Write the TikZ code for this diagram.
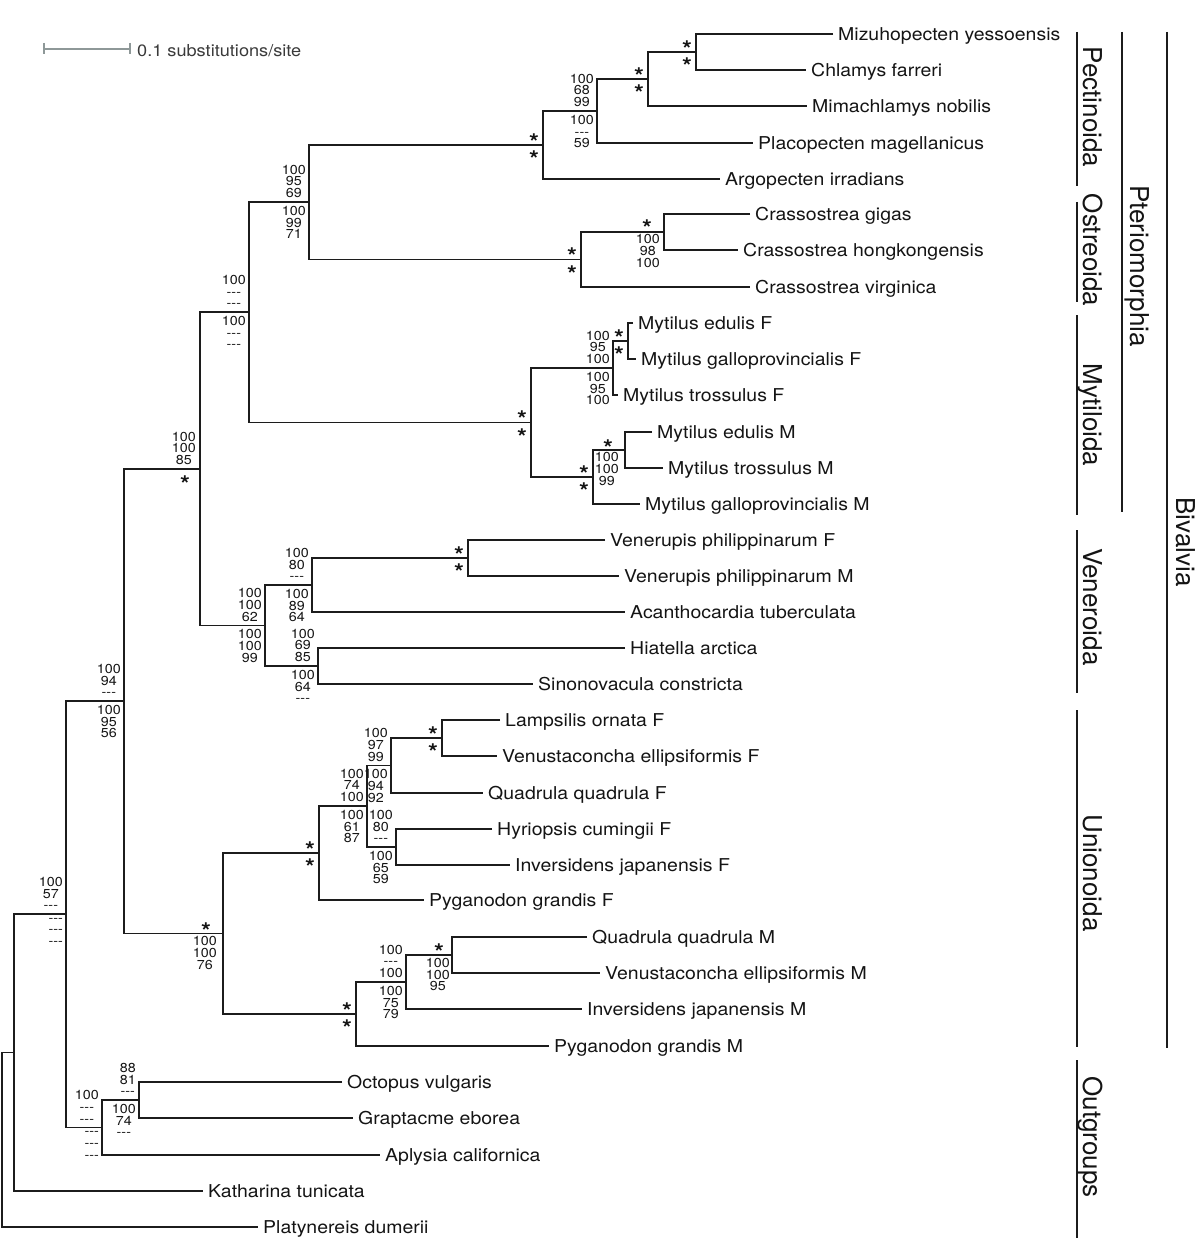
\documentclass[tikz,border=0pt]{standalone}
\usepackage{fontspec}
\setmainfont{TeX Gyre Heros}[FakeStretch=1.1]
\newfontfamily\cladefont{TeX Gyre Heros}
\definecolor{linec}{HTML}{1C1C1C}
\definecolor{txtc}{HTML}{141414}
\definecolor{scalec}{HTML}{8E9898}
\definecolor{scaletxt}{HTML}{3A3A3A}
\newcommand{\tdash}{\mbox{-}\mbox{-}\mbox{-}}
\newcommand{\stglyph}{\raisebox{-0.42em}[0.3em][0pt]{*}}
\newcommand{\tip}[4]{\coordinate (#1) at (#2,#3); \node[taxon] (#1l) at ([shift={(5,6.3)}]#1) {#4};}
\newcommand{\inode}[3]{\coordinate (#1) at (#2,#3);}
\newcommand{\sstars}[1]{\node[stx] (#1sa) at ([shift={(-9,-8)}]#1) {\stglyph}; \node[stx] (#1sb) at ([shift={(-9,9.5)}]#1) {\stglyph};}
\newcommand{\lab}[3]{\node[supu] (#1la) at ([shift={(-3,-4)}]#1) {#2}; \node[supd] (#1lb) at ([shift={(-3,4)}]#1) {#3};}
\begin{document}
\begin{tikzpicture}[x=1pt,y=-1pt,
  branch/.style={draw=linec, line width=1.8pt, line join=miter},
  taxon/.style={anchor=base west, inner sep=0pt, font=\fontsize{17.7}{20}\selectfont, text=txtc},
  supu/.style={anchor=south east, inner sep=0pt, align=center, font=\fontsize{13}{11.7}\selectfont, text=txtc},
  supd/.style={supu, anchor=north east},
  stx/.style={anchor=center, inner sep=0pt, font=\bfseries\fontsize{23}{23}\selectfont, text=txtc},
  cladebar/.style={draw=linec, line width=2pt},
  cladetxt/.style={anchor=base, rotate=-90, inner sep=0pt, font=\cladefont\fontsize{26}{26}\selectfont, text=txtc},
  scalebar/.style={draw=scalec, line width=2pt},
]
\useasboundingbox (0,0) rectangle (1200,1238);
% tips
\tip{t1}{833}{34}{Mizuhopecten yessoensis}
\tip{t2}{806}{70}{Chlamys farreri}
\tip{t3}{807}{106}{Mimachlamys nobilis}
\tip{t4}{753}{143}{Placopecten magellanicus}
\tip{t5}{720}{179}{Argopecten irradians}
\tip{t6}{750}{214}{Crassostrea gigas}
\tip{t7}{738}{250}{Crassostrea hongkongensis}
\tip{t8}{750}{287}{Crassostrea virginica}
\tip{t9}{633}{323}{Mytilus edulis F}
\tip{t10}{636}{359}{Mytilus galloprovincialis F}
\tip{t11}{618}{395}{Mytilus trossulus F}
\tip{t12}{652}{432}{Mytilus edulis M}
\tip{t13}{663}{468}{Mytilus trossulus M}
\tip{t14}{640}{504}{Mytilus galloprovincialis M}
\tip{t15}{605}{540}{Venerupis philippinarum F}
\tip{t16}{619}{576}{Venerupis philippinarum M}
\tip{t17}{625}{612}{Acanthocardia tuberculata}
\tip{t18}{625}{648}{Hiatella arctica}
\tip{t19}{533}{684}{Sinonovacula constricta}
\tip{t20}{500}{720}{Lampsilis ornata F}
\tip{t21}{497}{756}{Venustaconcha ellipsiformis F}
\tip{t22}{483}{793}{Quadrula quadrula F}
\tip{t23}{492}{829}{Hyriopsis cumingii F}
\tip{t24}{510}{865}{Inversidens japanensis F}
\tip{t25}{424}{900}{Pyganodon grandis F}
\tip{t26}{587}{937}{Quadrula quadrula M}
\tip{t27}{600}{973}{Venustaconcha ellipsiformis M}
\tip{t28}{582}{1009}{Inversidens japanensis M}
\tip{t29}{549}{1046}{Pyganodon grandis M}
\tip{t30}{342}{1082}{Octopus vulgaris}
\tip{t31}{353}{1118}{Graptacme eborea}
\tip{t32}{380}{1155}{Aplysia californica}
\tip{t33}{203}{1191}{Katharina tunicata}
\tip{t34}{258}{1227}{Platynereis dumerii}
% internal nodes
\inode{nMC}{696}{52}
\inode{nMM}{648}{79}
\inode{nMP}{597}{111}
\inode{nPec}{543}{145}
\inode{nCG}{664}{232}
\inode{nOst}{581}{259.5}
\inode{nPO}{309}{202}
\inode{nMFi}{628}{341}
\inode{nMF}{613}{368}
\inode{nMMi}{625}{450}
\inode{nMMt}{593}{477}
\inode{nMyt}{531}{422.5}
\inode{nPter}{249}{312}
\inode{nVen}{468}{558}
\inode{nVA}{312}{585}
\inode{nHS}{318}{666}
\inode{nVer}{265}{625.5}
\inode{nBa}{200}{469}
\inode{nLV}{442}{738}
\inode{nLVQ}{391}{765.5}
\inode{nHI}{396}{847}
\inode{nUFf}{367}{806}
\inode{nUF}{319}{853}
\inode{nQV}{452}{955}
\inode{nQVI}{406}{982}
\inode{nUM}{356}{1014}
\inode{nUni}{223}{933.5}
\inode{nBiv}{124}{701}
\inode{nOG}{139}{1100}
\inode{nOGA}{102}{1127.5}
\inode{nIn}{66}{914}
\inode{nK}{14}{1052.5}
\inode{nRoot}{2}{1140}
% branches
\draw[branch] (t1) -| (nMC) |- (t2);
\draw[branch] (nMC) -| (nMM) |- (t3);
\draw[branch] (nMM) -| (nMP) |- (t4);
\draw[branch] (nMP) -| (nPec) |- (t5);
\draw[branch] (t6) -| (nCG) |- (t7);
\draw[branch] (nCG) -| (nOst) |- (t8);
\draw[branch] (nPec) -| (nPO) |- (nOst);
\draw[branch] (t9) -| (nMFi) |- (t10);
\draw[branch] (nMFi) -| (nMF) |- (t11);
\draw[branch] (t12) -| (nMMi) |- (t13);
\draw[branch] (nMMi) -| (nMMt) |- (t14);
\draw[branch] (nMF) -| (nMyt) |- (nMMt);
\draw[branch] (nPO) -| (nPter) |- (nMyt);
\draw[branch] (t15) -| (nVen) |- (t16);
\draw[branch] (nVen) -| (nVA) |- (t17);
\draw[branch] (t18) -| (nHS) |- (t19);
\draw[branch] (nVA) -| (nVer) |- (nHS);
\draw[branch] (nPter) -| (nBa) |- (nVer);
\draw[branch] (t20) -| (nLV) |- (t21);
\draw[branch] (nLV) -| (nLVQ) |- (t22);
\draw[branch] (t23) -| (nHI) |- (t24);
\draw[branch] (nLVQ) -| (nUFf) |- (nHI);
\draw[branch] (nUFf) -| (nUF) |- (t25);
\draw[branch] (t26) -| (nQV) |- (t27);
\draw[branch] (nQV) -| (nQVI) |- (t28);
\draw[branch] (nQVI) -| (nUM) |- (t29);
\draw[branch] (nUF) -| (nUni) |- (nUM);
\draw[branch] (nBa) -| (nBiv) |- (nUni);
\draw[branch] (t30) -| (nOG) |- (t31);
\draw[branch] (nOG) -| (nOGA) |- (t32);
\draw[branch] (nBiv) -| (nIn) |- (nOGA);
\draw[branch] (nIn) -| (nK) |- (t33);
\draw[branch] (nK) -| (nRoot) |- (t34);
% support values
\sstars{nMC}
\sstars{nMM}
\lab{nMP}{100\\68\\99}{100\\\tdash\\59}
\sstars{nPec}
\node[stx] (nCGsa) at ([shift={(-17,-9)}]nCG) {\stglyph};
\node[supd] (nCGlb) at ([shift={(-4,2.5)}]nCG) {100\\98\\100};
\sstars{nOst}
\lab{nPO}{100\\95\\69}{100\\99\\71}
\sstars{nMFi}
\lab{nMF}{100\\95\\100}{100\\95\\100}
\node[stx] (nMMisa) at ([shift={(-17,-7)}]nMMi) {\stglyph};
\node[supd] (nMMilb) at ([shift={(-6,2.5)}]nMMi) {100\\100\\99};
\sstars{nMMt}
\sstars{nMyt}
\lab{nPter}{100\\\tdash\\\tdash}{100\\\tdash\\\tdash}
\sstars{nVen}
\lab{nVA}{100\\80\\\tdash}{100\\89\\64}
\lab{nHS}{100\\69\\85}{100\\64\\\tdash}
\lab{nVer}{100\\100\\62}{100\\100\\99}
\node[supu] (nBala) at ([shift={(-4,-4)}]nBa) {100\\100\\85};
\node[stx] (nBasb) at ([shift={(-15,10)}]nBa) {\stglyph};
\lab{nBiv}{100\\94\\\tdash}{100\\95\\56}
\sstars{nLV}
\lab{nLVQ}{100\\97\\99}{100\\94\\92}
\lab{nHI}{100\\80\\\tdash}{100\\65\\59}
\lab{nUFf}{100\\74\\100}{100\\61\\87}
\sstars{nUF}
\node[stx] (nQVsa) at ([shift={(-13,-8)}]nQV) {\stglyph};
\node[supd] (nQVlb) at ([shift={(-2,3)}]nQV) {100\\100\\95};
\lab{nQVI}{100\\\tdash\\100}{100\\75\\79}
\sstars{nUM}
\node[stx] (nUnisa) at ([shift={(-17,-7.5)}]nUni) {\stglyph};
\node[supd] (nUnilb) at ([shift={(-6,3)}]nUni) {100\\100\\76};
\lab{nOG}{88\\81\\\tdash}{100\\74\\\tdash}
\lab{nOGA}{100\\\tdash\\\tdash}{\tdash\\\tdash\\\tdash}
\lab{nIn}{100\\57\\\tdash}{\tdash\\\tdash\\\tdash}
% clade bars
\coordinate (bPecA) at (1077,32); \coordinate (bPecB) at (1077,186);
\draw[cladebar] (bPecA) -- (bPecB);
\node[cladetxt] (cPec) at (1083,107) {Pectinoida};
\coordinate (bOstA) at (1077,202); \coordinate (bOstB) at (1077,302);
\draw[cladebar] (bOstA) -- (bOstB);
\node[cladetxt] (cOst) at (1083,250) {Ostreoida};
\coordinate (bMytA) at (1077,315); \coordinate (bMytB) at (1077,515);
\draw[cladebar] (bMytA) -- (bMytB);
\node[cladetxt] (cMyt) at (1083,415) {Mytiloida};
\coordinate (bVenA) at (1077,530); \coordinate (bVenB) at (1077,693);
\draw[cladebar] (bVenA) -- (bVenB);
\node[cladetxt] (cVen) at (1083,607) {Veneroida};
\coordinate (bUniA) at (1077,710); \coordinate (bUniB) at (1077,1047);
\draw[cladebar] (bUniA) -- (bUniB);
\node[cladetxt] (cUni) at (1083,873) {Unionoida};
\coordinate (bOutA) at (1077,1060); \coordinate (bOutB) at (1077,1238);
\draw[cladebar] (bOutA) -- (bOutB);
\node[cladetxt] (cOut) at (1083,1137) {Outgroups};
\coordinate (bPteA) at (1122,32); \coordinate (bPteB) at (1122,512);
\draw[cladebar] (bPteA) -- (bPteB);
\node[cladetxt] (cPte) at (1130,266) {Pteriomorphia};
\coordinate (bBivA) at (1167,32); \coordinate (bBivB) at (1167,1048);
\draw[cladebar] (bBivA) -- (bBivB);
\node[cladetxt] (cBiv) at (1176,542) {Bivalvia};
% scale bar
\coordinate (sbA) at (44,49); \coordinate (sbB) at (130,49);
\draw[scalebar] (sbA) -- (sbB);
\draw[scalebar] ([shift={(0,-6)}]sbA) -- ([shift={(0,5)}]sbA);
\draw[scalebar] ([shift={(0,-6)}]sbB) -- ([shift={(0,5)}]sbB);
\node[anchor=base west, inner sep=0pt, font=\fontsize{16.5}{18}\selectfont, text=scaletxt] (sbT) at (137,57) {0.1 substitutions/site};
\end{tikzpicture}
\end{document}
